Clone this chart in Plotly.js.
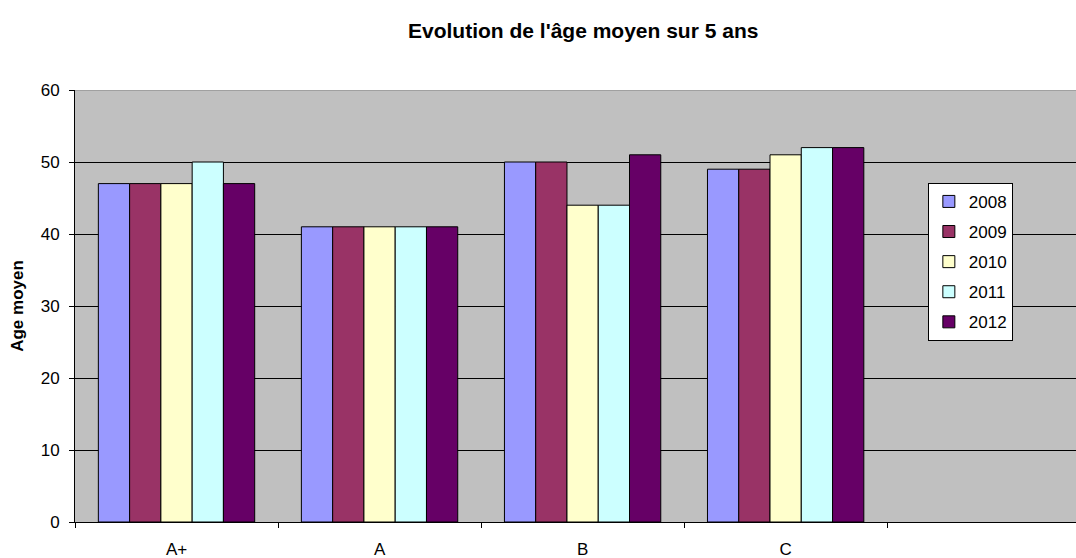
<!DOCTYPE html>
<html><head><meta charset="utf-8">
<script src="https://cdn.plot.ly/plotly-3.0.1.min.js"></script>
<style>html,body{margin:0;padding:0;overflow:hidden;background:#fff}</style>
</head><body>
<div id="chart" style="width:1076px;height:558px"></div>
<script>
const categories = ['A+', 'A', 'B', 'C'];
const years = ['2008', '2009', '2010', '2011', '2012'];
const v2008 = [47, 41, 50, 49];
const v2009 = [47, 41, 50, 49];
const v2010 = [47, 41, 44, 51];
const v2011 = [50, 41, 44, 52];
const v2012 = [47, 41, 51, 52];
const colors = ['#9999FF', '#993366', '#FFFFCC', '#CCFFFF', '#660066'];
const series = [v2008, v2009, v2010, v2011, v2012];

const traces = series.map((vals, i) => ({
  type: 'bar', name: years[i], x: categories, y: vals,
  legendgroup: 'g' + i,
  marker: {color: colors[i], line: {color: '#000', width: 1}},
  hoverinfo: 'x+y+name'
}));

const FONT = 'Liberation Sans, Arial, sans-serif';
const layout = {
  width: 1076, height: 558,
  margin: {l: 75, r: 0, t: 90, b: 36},
  paper_bgcolor: '#fff', plot_bgcolor: '#C0C0C0',
  font: {family: FONT, size: 17, color: '#000'},
  title: {text: "Evolution de l'âge moyen sur 5 ans", font: {size: 21, family: FONT, weight: 'bold'}, xref: 'container', x: 0.542, xanchor: 'center', yref: 'container', y: 0.945, yanchor: 'middle'},
  barmode: 'group', bargap: 0.23, bargroupgap: 0,
  xaxis: {type: 'category', range: [-0.5, 4.43], tickson: 'boundaries', ticks: 'outside', ticklen: 5, tickcolor: '#000',
    showline: true, linecolor: '#000', linewidth: 1, showgrid: false, zeroline: false, fixedrange: true,
    tickfont: {size: 17}, ticklabelstandoff: 12},
  yaxis: {range: [0, 60], dtick: 10, ticks: 'outside', ticklen: 5, tickcolor: '#000',
    showline: true, linecolor: '#000', linewidth: 1, showgrid: true, gridcolor: '#000', gridwidth: 1,
    zeroline: false, tickfont: {size: 17}, ticklabelstandoff: 6,
    title: {text: 'Age moyen', font: {size: 17, weight: 'bold'}, standoff: 12}},
  legend: {x: 0.852, y: 0.785, xanchor: 'left', yanchor: 'top', bgcolor: '#fff', bordercolor: '#000', borderwidth: 1,
    traceorder: 'grouped', tracegroupgap: 5, font: {size: 17}, entrywidth: 95, entrywidthmode: 'pixels'},
  shapes: [{type: 'line', xref: 'paper', yref: 'y', x0: 0, x1: 1, y0: 60, y1: 60, line: {color: '#808080', width: 1}}],
  showlegend: true
};
Plotly.newPlot('chart', traces, layout, {displayModeBar: false, staticPlot: true});
</script>
</body></html>
